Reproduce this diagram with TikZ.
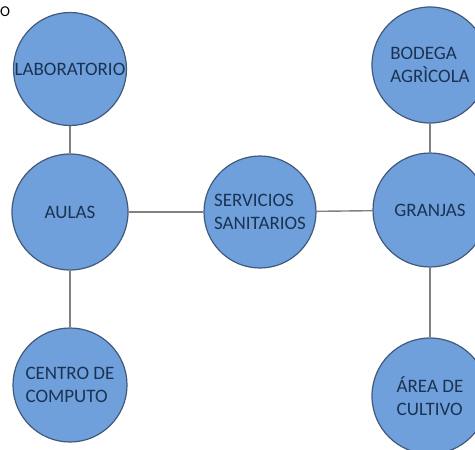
\documentclass[tikz,border=0pt]{standalone}
\usepackage{fontspec}
\setmainfont{Carlito}
\definecolor{cfill}{HTML}{6FA0DC}
\definecolor{cdraw}{HTML}{41597A}
\definecolor{ctext}{HTML}{1A3352}
\definecolor{cline}{HTML}{808080}
\begin{document}
\begin{tikzpicture}[x=1pt,y=-1pt,
  place/.style={circle,draw=cdraw,line width=1.2pt,fill=cfill,text=ctext,
    inner sep=0pt,align=left,font=\fontsize{19}{23}\selectfont},
  link/.style={draw=cline,line width=1.4pt}]
\useasboundingbox (0,0) rectangle (475,450);
\clip (0,0) rectangle (475,450);
\node[font=\fontsize{15}{18}\selectfont,inner sep=0pt] (corner) at (5,12) {O};
\node[place,minimum size=113pt] (lab) at (70,69) {LABORATORIO};
\node[place,minimum size=116pt] (aulas) at (70,212) {AULAS};
\node[place,minimum size=114pt] (centro) at (70,385) {CENTRO DE\\COMPUTO};
\node[place,minimum size=112pt] (serv) at (260,212) {SERVICIOS\\SANITARIOS};
\node[place,minimum size=114pt] (granjas) at (430,210) {GRANJAS};
\node[place,minimum size=116pt] (bodega) at (430,65) {BODEGA\\AGRÌCOLA};
\node[place,minimum size=116pt] (area) at (430,396) {ÁREA DE\\CULTIVO};
\draw[link] (lab) -- (aulas);
\draw[link] (aulas) -- (centro);
\draw[link] (aulas) -- (serv);
\draw[link] (serv) -- (granjas);
\draw[link] (bodega) -- (granjas);
\draw[link] (granjas) -- (area);
\end{tikzpicture}
\end{document}
